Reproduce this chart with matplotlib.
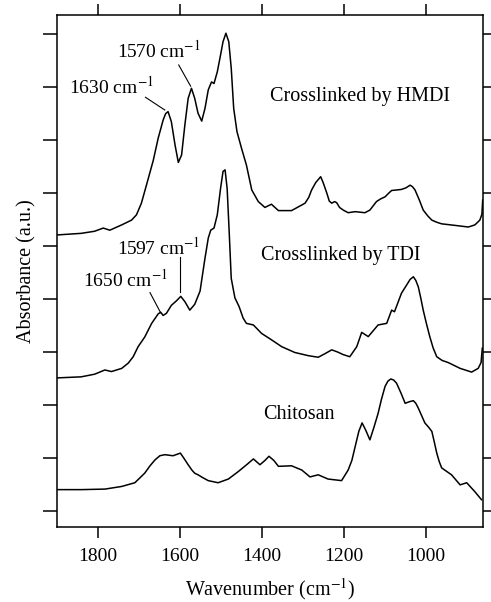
import numpy as np
import matplotlib.pyplot as plt

plt.rcParams['font.family'] = ['Liberation Serif', 'DejaVu Serif']
plt.rcParams['mathtext.fontset'] = 'stix'

# Spectra (wavenumber in cm^-1, absorbance in a.u., offset per trace)
hmdi_wn = [1899, 1840, 1807, 1786, 1770, 1741, 1717, 1705, 1693, 1680, 1664, 1652, 1640,
           1634, 1628, 1620, 1611, 1603, 1595, 1587, 1579, 1571, 1563, 1555, 1546, 1538,
           1530, 1522, 1516, 1508, 1500, 1494, 1487, 1480, 1474, 1468, 1460, 1449, 1437,
           1424, 1408, 1392, 1376, 1359, 1327, 1294, 1285, 1278, 1268, 1256, 1250, 1241,
           1235, 1229, 1222, 1217, 1210, 1201, 1189, 1172, 1148, 1136, 1120, 1110, 1099,
           1090, 1083, 1070, 1059, 1048, 1038, 1032, 1026, 1016, 1006, 995, 985, 973,
           961, 928, 896, 880, 868, 863, 861]
hmdi_abs = [5.21, 5.24, 5.28, 5.34, 5.30, 5.40, 5.49, 5.59, 5.81, 6.17, 6.62, 7.04, 7.38,
            7.50, 7.54, 7.35, 6.91, 6.58, 6.72, 7.29, 7.79, 7.98, 7.79, 7.51, 7.36, 7.60,
            7.95, 8.10, 8.07, 8.29, 8.61, 8.86, 9.02, 8.86, 8.36, 7.60, 7.16, 6.85, 6.53,
            6.06, 5.84, 5.73, 5.79, 5.67, 5.67, 5.81, 5.92, 6.06, 6.20, 6.31, 6.20, 6.00,
            5.85, 5.81, 5.84, 5.82, 5.73, 5.68, 5.63, 5.65, 5.63, 5.68, 5.84, 5.89, 5.93,
            6.00, 6.05, 6.06, 6.07, 6.10, 6.15, 6.12, 6.06, 5.88, 5.68, 5.57, 5.49, 5.45,
            5.42, 5.39, 5.36, 5.40, 5.49, 5.60, 5.87]

tdi_wn = [1899, 1840, 1807, 1782, 1766, 1741, 1725, 1713, 1701, 1685, 1668, 1652, 1646,
          1640, 1632, 1620, 1607, 1597, 1587, 1575, 1563, 1550, 1538, 1530, 1524, 1516,
          1508, 1500, 1494, 1489, 1484, 1479, 1474, 1465, 1455, 1445, 1437, 1420, 1400,
          1376, 1351, 1319, 1286, 1262, 1245, 1229, 1215, 1201, 1185, 1168, 1156, 1148,
          1140, 1116, 1095, 1083, 1076, 1059, 1046, 1038, 1030, 1024, 1018, 1012, 1006,
          998, 990, 982, 973, 960, 945, 916, 888, 872, 865, 862]
tdi_abs = [2.51, 2.53, 2.58, 2.66, 2.63, 2.69, 2.79, 2.91, 3.10, 3.28, 3.54, 3.72, 3.75,
           3.69, 3.73, 3.88, 3.97, 4.05, 3.95, 3.79, 3.90, 4.15, 4.77, 5.15, 5.30, 5.34,
           5.59, 6.09, 6.41, 6.44, 6.09, 5.27, 4.39, 4.02, 3.86, 3.64, 3.54, 3.51, 3.35,
           3.23, 3.10, 2.99, 2.93, 2.90, 2.97, 3.04, 3.00, 2.95, 2.91, 3.10, 3.37, 3.33,
           3.29, 3.51, 3.54, 3.79, 3.76, 4.11, 4.27, 4.37, 4.42, 4.35, 4.23, 4.02, 3.79,
           3.53, 3.29, 3.08, 2.91, 2.84, 2.80, 2.69, 2.62, 2.69, 2.80, 3.07]

chit_wn = [1899, 1840, 1782, 1741, 1709, 1685, 1672, 1660, 1648, 1636, 1616, 1605, 1598,
           1590, 1579, 1570, 1563, 1555, 1542, 1530, 1506, 1481, 1457, 1435, 1420, 1404,
           1392, 1382, 1370, 1359, 1327, 1302, 1282, 1262, 1238, 1205, 1189, 1180, 1172,
           1163, 1155, 1146, 1136, 1126, 1116, 1108, 1099, 1092, 1085, 1078, 1071, 1060,
           1050, 1040, 1030, 1024, 1018, 1010, 1002, 993, 985, 979, 973, 967, 961, 937,
           916, 900, 880, 864]
chit_abs = [0.40, 0.40, 0.41, 0.46, 0.53, 0.71, 0.85, 0.96, 1.04, 1.06, 1.04, 1.07, 1.09,
            1.00, 0.87, 0.77, 0.71, 0.68, 0.62, 0.57, 0.53, 0.60, 0.74, 0.88, 0.98, 0.87,
            0.95, 1.03, 0.95, 0.84, 0.85, 0.77, 0.64, 0.68, 0.60, 0.57, 0.77, 0.95, 1.21,
            1.50, 1.66, 1.52, 1.34, 1.58, 1.84, 2.10, 2.35, 2.45, 2.49, 2.47, 2.41, 2.22,
            2.03, 2.06, 2.08, 2.03, 1.94, 1.80, 1.66, 1.58, 1.50, 1.30, 1.09, 0.93, 0.81,
            0.68, 0.49, 0.53, 0.36, 0.21]

fig = plt.figure(figsize=(4.91, 6.02), dpi=100)
ax = fig.add_axes([0.1167, 0.1251, 0.8664, 0.8505])

for wn, ab in [(hmdi_wn, hmdi_abs), (tdi_wn, tdi_abs), (chit_wn, chit_abs)]:
    ax.plot(wn, ab, color='black', linewidth=1.1, solid_joinstyle='round')

ax.set_xlim(1898, 861)
ax.set_ylim(-0.30, 9.37)
ax.set_xticks([1800, 1600, 1400, 1200, 1000])
ax.set_yticks(np.arange(0, 10))
ax.set_yticklabels([])

ax.tick_params(axis='x', direction='out', length=8, width=1.1, pad=7,
               labelsize=14, top=True)
ax.tick_params(axis='y', direction='out', length=10, width=1.1, right=True,
               labelleft=False)
for s in ax.spines.values():
    s.set_linewidth(1.1)

ax.set_xlabel('Wavenumber (cm$^{-1}$)', fontsize=14.5, labelpad=8)
ax.set_ylabel('Absorbance (a.u.)', fontsize=14.5, labelpad=5)

# trace labels
ax.text(1160, 7.82, 'Crosslinked by HMDI', fontsize=14.5, ha='center', va='center')
ax.text(1207, 4.83, 'Crosslinked by TDI', fontsize=14.5, ha='center', va='center')
ax.text(1309, 1.81, 'Chitosan', fontsize=14.5, ha='center', va='center')

# peak annotations
ax.text(1767, 8.02, '1630 cm$^{-1}$', fontsize=14, ha='center', va='center')
ax.plot([1683, 1636], [7.81, 7.57], color='black', linewidth=0.8)
ax.text(1650, 8.69, '1570 cm$^{-1}$', fontsize=14, ha='center', va='center')
ax.plot([1602, 1573], [8.42, 8.02], color='black', linewidth=0.8)
ax.text(1650, 4.98, '1597 cm$^{-1}$', fontsize=14, ha='center', va='center')
ax.plot([1598, 1598], [4.80, 4.14], color='black', linewidth=0.8)
ax.text(1731, 4.36, '1650 cm$^{-1}$', fontsize=14, ha='center', va='center')
ax.plot([1672, 1646], [4.12, 3.74], color='black', linewidth=0.8)

plt.savefig('out.png', dpi=100)
